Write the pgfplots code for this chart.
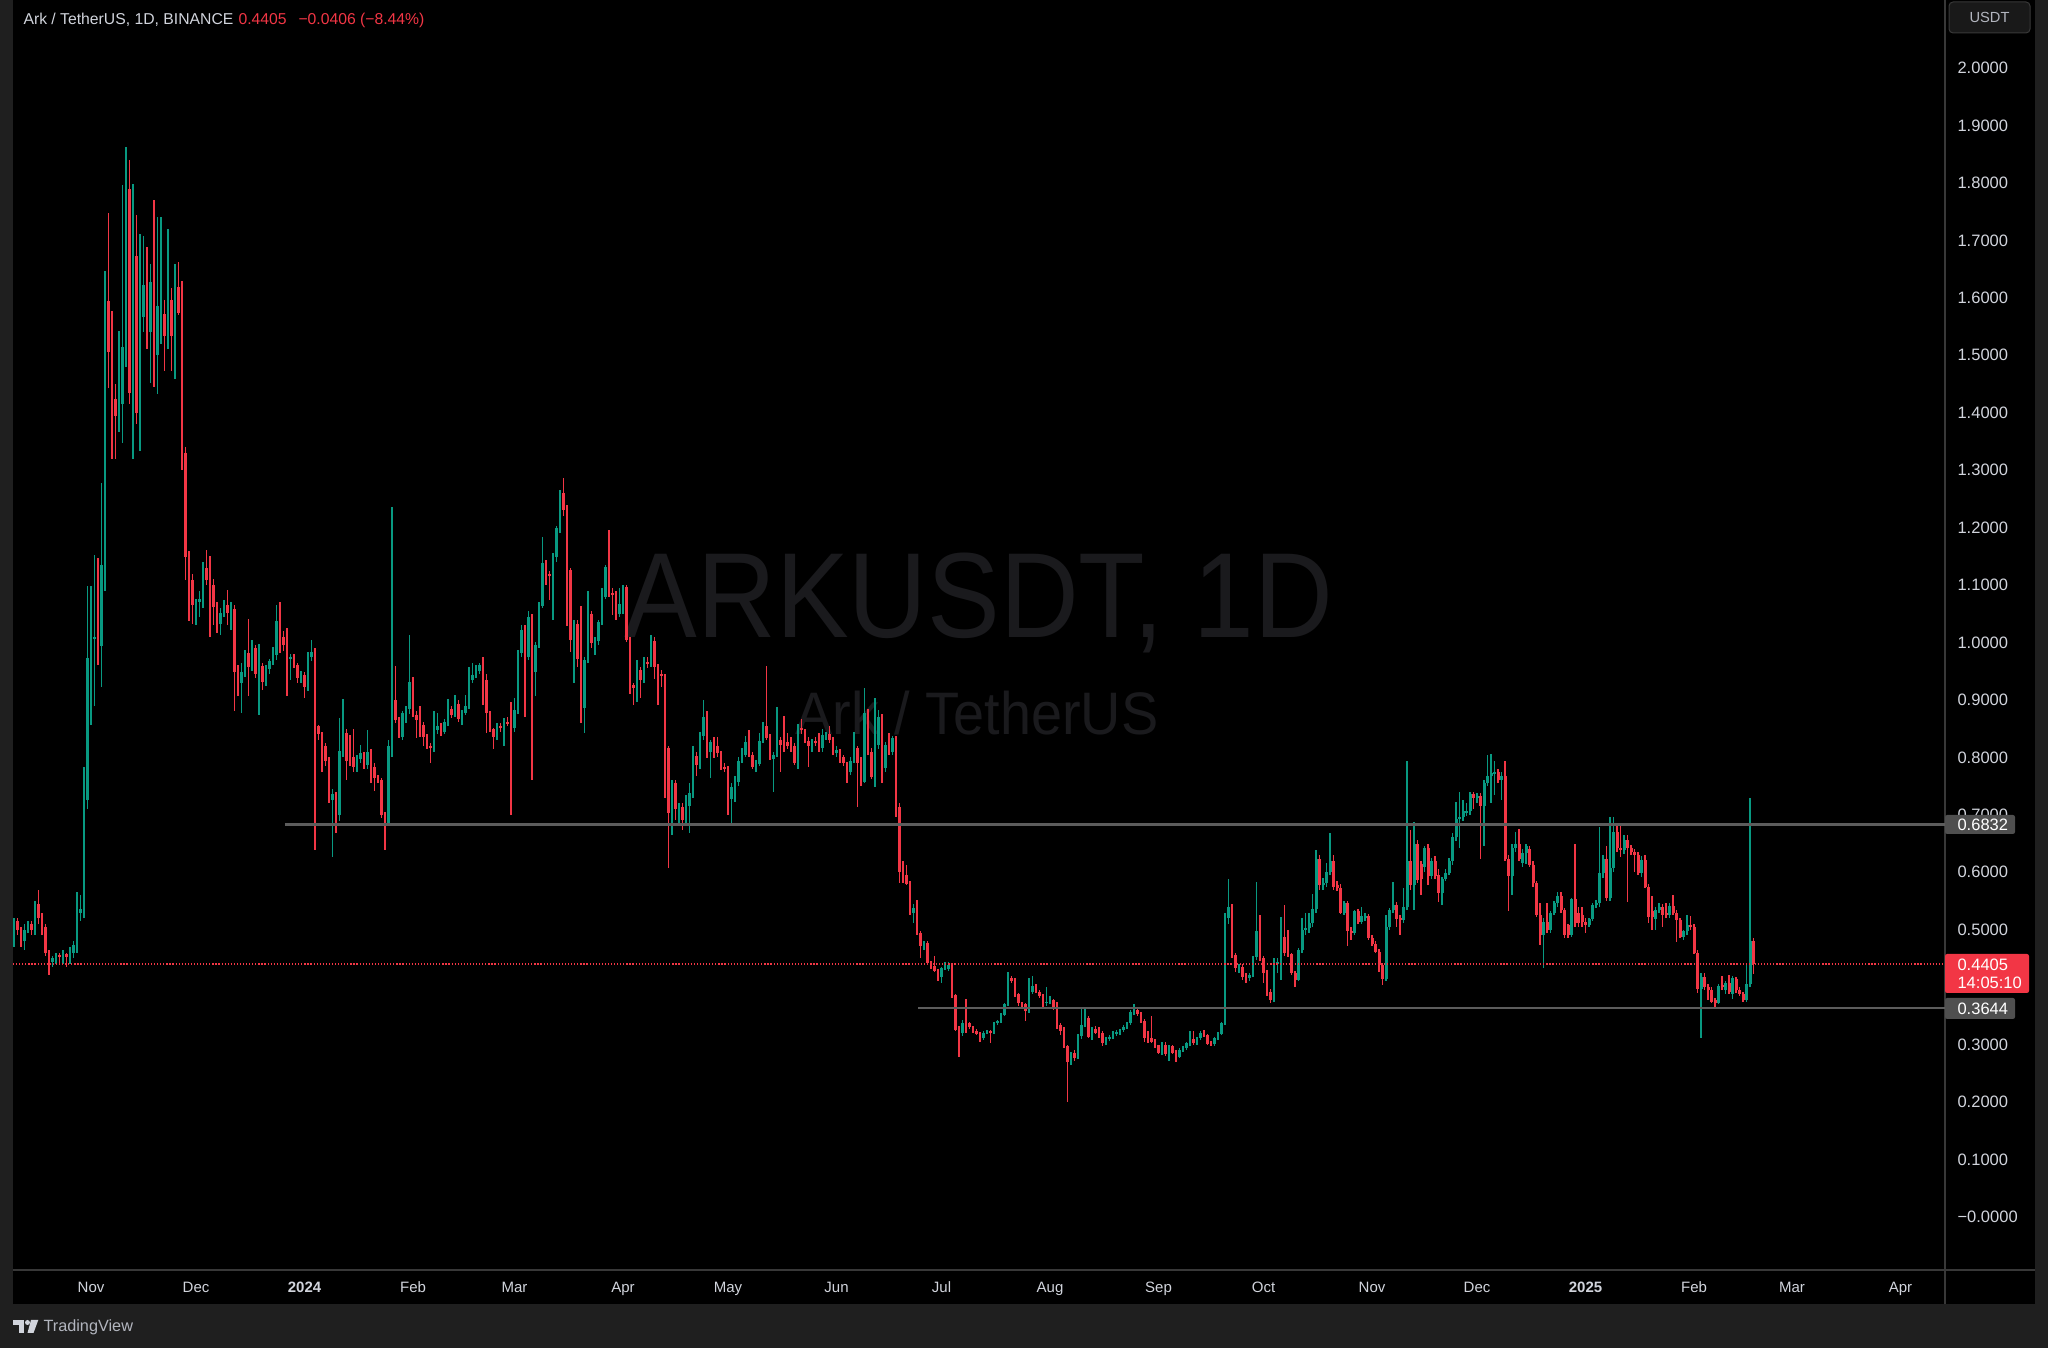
\documentclass[border=0pt]{standalone}
\usepackage{pgfplots}
\pgfplotsset{compat=1.18}
\usepackage{pgfplotstable}
\usepackage{fontspec}
\setmainfont{Liberation Sans}

\definecolor{tvgreen}{HTML}{089981}
\definecolor{tvred}{HTML}{F23645}
\definecolor{tvtext}{HTML}{D1D4DC}
\definecolor{tvgray}{HTML}{B2B5BE}
\definecolor{framebg}{HTML}{1F1F1F}
\definecolor{sepline}{HTML}{383838}
\definecolor{wm}{HTML}{1A1A1D}
\definecolor{level}{HTML}{5C5C5C}
\definecolor{levelbox}{HTML}{4F4F4F}

% daily candles, d = days since 1 Nov 2023
\pgfplotstableread{
d o h l c
-22 0.490 0.520 0.470 0.515
-21 0.515 0.520 0.490 0.500
-20 0.500 0.505 0.470 0.480
-19 0.480 0.510 0.465 0.500
-18 0.500 0.515 0.495 0.510
-17 0.510 0.515 0.490 0.500
-16 0.500 0.550 0.490 0.545
-15 0.545 0.570 0.510 0.520
-14 0.520 0.530 0.490 0.505
-13 0.505 0.510 0.455 0.460
-12 0.460 0.465 0.421 0.443
-11 0.443 0.455 0.435 0.450
-10 0.450 0.460 0.440 0.456
-9 0.456 0.460 0.440 0.452
-8 0.452 0.465 0.440 0.458
-7 0.458 0.460 0.435 0.453
-6 0.453 0.470 0.440 0.460
-5 0.460 0.480 0.450 0.473
-4 0.473 0.565 0.460 0.530
-3 0.530 0.560 0.515 0.536
-2 0.536 0.784 0.520 0.725
-1 0.725 1.098 0.710 0.973
0 0.973 1.098 0.856 1.006
1 1.006 1.152 0.889 1.009
2 1.009 1.147 0.961 0.994
3 0.994 1.278 0.923 1.135
4 1.135 1.647 1.090 1.594
5 1.594 1.747 1.443 1.505
6 1.505 1.577 1.319 1.424
7 1.424 1.450 1.320 1.395
8 1.395 1.543 1.367 1.415
9 1.415 1.797 1.348 1.515
10 1.515 1.862 1.480 1.789
11 1.789 1.840 1.415 1.434
12 1.434 1.798 1.319 1.672
13 1.672 1.744 1.381 1.400
14 1.400 1.711 1.333 1.567
15 1.567 1.708 1.540 1.623
16 1.623 1.689 1.510 1.541
17 1.541 1.658 1.451 1.627
18 1.627 1.770 1.445 1.500
19 1.500 1.741 1.432 1.585
20 1.540 1.741 1.520 1.572
21 1.572 1.596 1.472 1.534
22 1.534 1.720 1.510 1.596
23 1.596 1.617 1.472 1.534
24 1.534 1.658 1.458 1.618
25 1.618 1.663 1.570 1.574
26 1.574 1.630 1.300 1.330
27 1.330 1.340 1.109 1.149
28 1.149 1.160 1.037 1.109
29 1.109 1.120 1.033 1.066
30 1.066 1.075 1.030 1.070
31 1.070 1.090 1.045 1.075
32 1.075 1.140 1.060 1.130
33 1.130 1.161 1.100 1.109
34 1.109 1.150 1.010 1.100
35 1.100 1.110 1.030 1.061
36 1.061 1.070 1.016 1.032
37 1.032 1.060 1.013 1.052
38 1.052 1.074 1.045 1.069
39 1.066 1.091 1.030 1.051
40 1.045 1.071 1.022 1.059
41 1.059 1.065 0.880 0.949
42 0.949 0.961 0.906 0.930
43 0.930 0.964 0.878 0.948
44 0.948 0.987 0.940 0.984
45 0.982 1.041 0.906 0.957
46 0.957 1.004 0.950 0.990
47 0.990 0.995 0.938 0.946
48 0.946 0.997 0.874 0.959
49 0.959 0.964 0.917 0.932
50 0.932 0.960 0.925 0.953
51 0.953 0.972 0.945 0.968
52 0.968 0.993 0.960 0.978
53 0.978 1.065 0.970 1.038
54 1.038 1.071 0.981 0.996
55 1.010 1.020 0.985 0.996
56 1.000 1.025 0.906 0.972
57 0.972 0.980 0.935 0.975
58 0.975 0.980 0.955 0.961
59 0.961 0.965 0.929 0.938
60 0.938 0.950 0.930 0.941
61 0.943 0.948 0.903 0.923
62 0.923 0.984 0.915 0.974
63 0.974 1.004 0.968 0.984
64 0.984 0.990 0.639 0.854
65 0.854 0.857 0.830 0.841
66 0.841 0.845 0.774 0.820
67 0.820 0.825 0.785 0.793
68 0.793 0.800 0.720 0.725
69 0.725 0.745 0.626 0.736
70 0.736 0.740 0.668 0.700
71 0.700 0.868 0.690 0.811
72 0.811 0.901 0.800 0.843
73 0.843 0.850 0.761 0.794
74 0.807 0.839 0.785 0.794
75 0.800 0.849 0.775 0.783
76 0.783 0.805 0.775 0.798
77 0.798 0.822 0.790 0.807
78 0.804 0.810 0.780 0.787
79 0.787 0.848 0.780 0.810
80 0.810 0.815 0.755 0.783
81 0.783 0.790 0.741 0.765
82 0.765 0.770 0.755 0.761
83 0.761 0.765 0.695 0.700
84 0.700 0.705 0.638 0.685
85 0.685 0.830 0.680 0.819
86 0.819 1.236 0.800 0.900
87 0.900 0.959 0.860 0.865
88 0.865 0.870 0.833 0.836
89 0.836 0.880 0.830 0.877
90 0.877 0.890 0.860 0.885
91 0.885 1.013 0.875 0.932
92 0.932 0.940 0.870 0.874
93 0.874 0.880 0.833 0.865
94 0.865 0.889 0.836 0.857
95 0.857 0.862 0.819 0.836
96 0.836 0.840 0.814 0.820
97 0.820 0.825 0.791 0.817
98 0.817 0.880 0.810 0.848
99 0.848 0.878 0.840 0.854
100 0.854 0.860 0.838 0.845
101 0.845 0.866 0.840 0.861
102 0.861 0.901 0.855 0.884
103 0.884 0.890 0.868 0.874
104 0.874 0.909 0.870 0.893
105 0.893 0.900 0.862 0.866
106 0.866 0.882 0.857 0.878
107 0.878 0.909 0.874 0.890
108 0.890 0.958 0.885 0.935
109 0.935 0.964 0.930 0.944
110 0.944 0.960 0.938 0.951
111 0.951 0.965 0.945 0.961
112 0.961 0.974 0.891 0.935
113 0.935 0.945 0.842 0.877
114 0.877 0.880 0.845 0.849
115 0.849 0.852 0.814 0.835
116 0.835 0.860 0.830 0.854
117 0.854 0.860 0.845 0.851
118 0.851 0.868 0.820 0.862
119 0.862 0.870 0.855 0.859
120 0.859 0.897 0.700 0.852
121 0.852 0.903 0.845 0.882
122 0.882 0.987 0.875 0.982
123 0.982 1.030 0.975 1.022
124 1.022 1.030 0.870 0.975
125 0.975 1.054 0.970 1.045
126 1.045 1.050 0.761 0.949
127 0.949 1.000 0.907 0.996
128 0.996 1.070 0.990 1.064
129 1.064 1.184 1.060 1.139
130 1.139 1.144 1.100 1.119
131 1.119 1.125 1.074 1.116
132 1.116 1.155 1.040 1.148
133 1.148 1.202 1.140 1.199
134 1.199 1.266 1.190 1.260
135 1.260 1.286 1.220 1.231
136 1.231 1.240 1.028 1.126
137 1.126 1.130 0.984 1.004
138 1.004 1.040 0.929 1.033
139 1.033 1.040 0.958 0.971
140 0.971 1.063 0.860 0.886
141 0.886 0.975 0.842 0.970
142 0.970 1.089 0.965 1.050
143 1.050 1.055 0.990 0.999
144 0.999 1.010 0.978 1.002
145 1.002 1.040 0.995 1.035
146 1.035 1.094 1.030 1.080
147 1.080 1.135 1.075 1.131
148 1.131 1.196 1.080 1.086
149 1.086 1.095 1.048 1.083
150 1.083 1.090 1.039 1.067
151 1.050 1.094 1.045 1.067
152 1.060 1.100 1.050 1.097
153 1.097 1.100 1.000 1.004
154 1.004 1.010 0.911 0.926
155 0.926 0.930 0.891 0.920
156 0.920 0.970 0.897 0.952
157 0.952 0.958 0.903 0.935
158 0.935 0.975 0.930 0.964
159 0.966 0.975 0.955 0.963
160 0.963 1.013 0.958 1.003
161 1.003 1.010 0.936 0.958
162 0.958 0.963 0.891 0.943
163 0.945 0.952 0.923 0.941
164 0.941 0.945 0.729 0.816
165 0.816 0.820 0.607 0.704
166 0.704 0.760 0.665 0.755
167 0.755 0.760 0.691 0.711
168 0.710 0.720 0.681 0.713
169 0.713 0.720 0.674 0.691
170 0.691 0.735 0.682 0.714
171 0.716 0.755 0.668 0.738
172 0.738 0.820 0.730 0.803
173 0.803 0.810 0.767 0.787
174 0.787 0.845 0.780 0.837
175 0.837 0.900 0.830 0.871
176 0.871 0.880 0.799 0.825
177 0.810 0.830 0.764 0.826
178 0.826 0.836 0.799 0.819
179 0.819 0.836 0.800 0.808
180 0.808 0.812 0.778 0.781
181 0.783 0.790 0.775 0.780
182 0.780 0.785 0.700 0.727
183 0.727 0.755 0.684 0.749
184 0.749 0.768 0.723 0.758
185 0.758 0.801 0.750 0.794
186 0.794 0.816 0.790 0.804
187 0.804 0.837 0.800 0.827
188 0.827 0.848 0.800 0.804
189 0.804 0.810 0.780 0.784
190 0.784 0.795 0.775 0.788
191 0.788 0.843 0.785 0.829
192 0.829 0.862 0.825 0.855
193 0.855 0.959 0.830 0.833
194 0.833 0.840 0.795 0.797
195 0.797 0.810 0.740 0.804
196 0.804 0.888 0.800 0.830
197 0.830 0.835 0.775 0.822
198 0.826 0.872 0.810 0.819
199 0.826 0.842 0.815 0.820
200 0.829 0.835 0.810 0.819
201 0.819 0.825 0.787 0.790
202 0.790 0.858 0.779 0.851
203 0.851 0.866 0.840 0.847
204 0.847 0.850 0.825 0.828
205 0.828 0.835 0.784 0.819
206 0.819 0.832 0.810 0.828
207 0.829 0.835 0.820 0.825
208 0.827 0.842 0.810 0.816
209 0.816 0.849 0.810 0.839
210 0.837 0.845 0.830 0.840
211 0.840 0.854 0.825 0.830
212 0.830 0.835 0.804 0.807
213 0.807 0.820 0.800 0.813
214 0.813 0.815 0.790 0.798
215 0.801 0.805 0.785 0.790
216 0.790 0.792 0.755 0.774
217 0.774 0.800 0.770 0.794
218 0.794 0.845 0.790 0.816
219 0.816 0.820 0.713 0.790
220 0.790 0.800 0.750 0.758
221 0.758 0.920 0.755 0.877
222 0.877 0.885 0.805 0.810
223 0.810 0.816 0.762 0.766
224 0.769 0.903 0.749 0.822
225 0.822 0.882 0.815 0.870
226 0.870 0.875 0.755 0.781
227 0.781 0.827 0.775 0.822
228 0.822 0.842 0.805 0.810
229 0.810 0.837 0.805 0.833
230 0.833 0.838 0.697 0.714
231 0.714 0.720 0.581 0.601
232 0.603 0.619 0.581 0.592
233 0.595 0.613 0.578 0.580
234 0.580 0.585 0.525 0.530
235 0.530 0.545 0.511 0.538
236 0.538 0.552 0.490 0.494
237 0.494 0.497 0.450 0.471
238 0.471 0.480 0.465 0.477
239 0.477 0.480 0.440 0.442
240 0.442 0.445 0.432 0.435
241 0.437 0.455 0.426 0.429
242 0.429 0.432 0.410 0.418
243 0.418 0.435 0.407 0.433
244 0.433 0.443 0.430 0.436
245 0.431 0.443 0.428 0.438
246 0.436 0.440 0.382 0.385
247 0.386 0.388 0.323 0.326
248 0.329 0.332 0.278 0.320
249 0.320 0.343 0.315 0.337
250 0.340 0.379 0.321 0.337
251 0.337 0.340 0.327 0.330
252 0.330 0.333 0.320 0.323
253 0.324 0.327 0.316 0.319
254 0.320 0.322 0.305 0.311
255 0.311 0.324 0.308 0.321
256 0.321 0.326 0.318 0.323
257 0.323 0.326 0.302 0.320
258 0.321 0.340 0.318 0.338
259 0.338 0.343 0.335 0.342
260 0.341 0.355 0.338 0.352
261 0.352 0.373 0.350 0.371
262 0.371 0.427 0.368 0.414
263 0.416 0.420 0.408 0.410
264 0.413 0.416 0.383 0.387
265 0.388 0.390 0.368 0.373
266 0.373 0.375 0.366 0.369
267 0.371 0.373 0.342 0.358
268 0.358 0.416 0.355 0.391
269 0.391 0.419 0.388 0.402
270 0.401 0.405 0.390 0.392
271 0.392 0.395 0.381 0.384
272 0.385 0.388 0.366 0.372
273 0.372 0.401 0.368 0.375
274 0.375 0.385 0.370 0.378
275 0.378 0.380 0.360 0.363
276 0.365 0.375 0.328 0.331
277 0.334 0.338 0.317 0.323
278 0.326 0.330 0.295 0.297
279 0.298 0.300 0.201 0.270
280 0.270 0.288 0.265 0.285
281 0.285 0.290 0.272 0.276
282 0.279 0.318 0.275 0.315
283 0.315 0.362 0.310 0.334
284 0.334 0.362 0.330 0.346
285 0.346 0.350 0.311 0.314
286 0.314 0.330 0.308 0.326
287 0.328 0.332 0.318 0.321
288 0.321 0.331 0.312 0.317
289 0.321 0.323 0.297 0.302
290 0.303 0.314 0.300 0.311
291 0.311 0.316 0.307 0.313
292 0.313 0.324 0.310 0.321
293 0.318 0.325 0.315 0.322
294 0.319 0.328 0.316 0.326
295 0.326 0.334 0.322 0.331
296 0.331 0.340 0.328 0.338
297 0.338 0.360 0.335 0.357
298 0.357 0.371 0.352 0.360
299 0.360 0.365 0.350 0.353
300 0.353 0.356 0.337 0.340
301 0.342 0.345 0.305 0.311
302 0.311 0.323 0.303 0.308
303 0.311 0.350 0.303 0.305
304 0.307 0.310 0.295 0.297
305 0.299 0.300 0.283 0.285
306 0.285 0.304 0.282 0.299
307 0.299 0.304 0.281 0.284
308 0.284 0.300 0.272 0.297
309 0.297 0.300 0.283 0.285
310 0.288 0.290 0.269 0.279
311 0.279 0.294 0.276 0.291
312 0.291 0.297 0.287 0.294
313 0.294 0.305 0.290 0.302
314 0.301 0.323 0.298 0.309
315 0.309 0.323 0.300 0.302
316 0.303 0.313 0.300 0.311
317 0.311 0.324 0.308 0.321
318 0.321 0.325 0.314 0.316
319 0.316 0.318 0.299 0.301
320 0.303 0.306 0.297 0.301
321 0.301 0.314 0.297 0.311
322 0.311 0.322 0.308 0.319
323 0.319 0.340 0.316 0.337
324 0.337 0.529 0.335 0.520
325 0.520 0.588 0.510 0.540
326 0.540 0.545 0.450 0.456
327 0.456 0.460 0.427 0.433
328 0.431 0.440 0.424 0.436
329 0.436 0.440 0.413 0.418
330 0.420 0.425 0.407 0.416
331 0.416 0.425 0.410 0.421
332 0.421 0.455 0.418 0.452
333 0.452 0.583 0.448 0.497
334 0.497 0.526 0.445 0.450
335 0.450 0.455 0.407 0.424
336 0.424 0.430 0.384 0.392
337 0.392 0.396 0.372 0.378
338 0.378 0.450 0.375 0.447
339 0.440 0.450 0.425 0.444
340 0.444 0.523 0.413 0.488
341 0.488 0.543 0.455 0.460
342 0.460 0.500 0.452 0.457
343 0.457 0.460 0.421 0.424
344 0.424 0.428 0.401 0.413
345 0.413 0.468 0.410 0.464
346 0.464 0.520 0.460 0.500
347 0.500 0.529 0.490 0.503
348 0.503 0.530 0.495 0.511
349 0.511 0.563 0.505 0.536
350 0.536 0.638 0.530 0.624
351 0.624 0.630 0.570 0.578
352 0.578 0.590 0.570 0.581
353 0.581 0.616 0.575 0.601
354 0.601 0.669 0.595 0.619
355 0.619 0.630 0.570 0.575
356 0.578 0.585 0.568 0.573
357 0.573 0.580 0.528 0.530
358 0.530 0.550 0.525 0.546
359 0.546 0.550 0.471 0.497
360 0.497 0.505 0.482 0.495
361 0.495 0.535 0.490 0.532
362 0.532 0.536 0.510 0.514
363 0.514 0.539 0.510 0.524
364 0.520 0.530 0.515 0.524
365 0.524 0.528 0.483 0.485
366 0.485 0.490 0.472 0.476
367 0.476 0.480 0.459 0.462
368 0.462 0.466 0.427 0.439
369 0.439 0.442 0.404 0.414
370 0.414 0.526 0.410 0.505
371 0.505 0.538 0.500 0.534
372 0.534 0.583 0.530 0.543
373 0.543 0.548 0.505 0.518
374 0.520 0.525 0.491 0.517
375 0.517 0.572 0.512 0.540
376 0.540 0.793 0.535 0.620
377 0.620 0.674 0.570 0.578
378 0.578 0.688 0.534 0.650
379 0.650 0.656 0.581 0.587
380 0.614 0.620 0.561 0.588
381 0.610 0.646 0.600 0.642
382 0.642 0.650 0.578 0.593
383 0.593 0.625 0.588 0.619
384 0.619 0.628 0.588 0.593
385 0.596 0.605 0.549 0.564
386 0.564 0.592 0.543 0.588
387 0.588 0.605 0.585 0.599
388 0.599 0.625 0.595 0.619
389 0.619 0.668 0.612 0.661
390 0.661 0.723 0.655 0.692
391 0.692 0.740 0.642 0.696
392 0.696 0.725 0.690 0.706
393 0.704 0.720 0.698 0.707
394 0.707 0.740 0.700 0.736
395 0.736 0.740 0.711 0.729
396 0.729 0.738 0.720 0.732
397 0.732 0.738 0.624 0.715
398 0.715 0.760 0.645 0.755
399 0.755 0.804 0.750 0.768
400 0.768 0.806 0.720 0.773
401 0.772 0.793 0.735 0.775
402 0.775 0.780 0.755 0.761
403 0.761 0.775 0.726 0.768
404 0.768 0.793 0.620 0.623
405 0.623 0.630 0.532 0.593
406 0.593 0.650 0.561 0.642
407 0.642 0.671 0.635 0.649
408 0.649 0.675 0.620 0.624
409 0.616 0.640 0.610 0.633
410 0.633 0.650 0.615 0.646
411 0.640 0.645 0.610 0.613
412 0.613 0.620 0.575 0.581
413 0.581 0.585 0.522 0.526
414 0.526 0.546 0.474 0.491
415 0.491 0.520 0.433 0.514
416 0.514 0.547 0.495 0.500
417 0.500 0.533 0.495 0.529
418 0.529 0.550 0.525 0.546
419 0.546 0.565 0.540 0.559
420 0.559 0.565 0.530 0.534
421 0.534 0.538 0.485 0.491
422 0.508 0.510 0.485 0.491
423 0.491 0.556 0.488 0.553
424 0.553 0.650 0.505 0.511
425 0.530 0.540 0.505 0.511
426 0.525 0.540 0.505 0.514
427 0.514 0.520 0.495 0.509
428 0.509 0.520 0.505 0.518
429 0.518 0.546 0.515 0.543
430 0.543 0.552 0.538 0.547
431 0.547 0.678 0.540 0.598
432 0.598 0.630 0.590 0.624
433 0.624 0.645 0.550 0.555
434 0.555 0.697 0.550 0.607
435 0.607 0.697 0.600 0.671
436 0.671 0.680 0.635 0.642
437 0.642 0.682 0.627 0.639
438 0.639 0.665 0.632 0.657
439 0.657 0.665 0.549 0.642
440 0.642 0.648 0.630 0.636
441 0.636 0.640 0.601 0.630
442 0.630 0.635 0.595 0.598
443 0.598 0.628 0.592 0.622
444 0.622 0.630 0.572 0.575
445 0.575 0.580 0.511 0.522
446 0.532 0.559 0.500 0.523
447 0.518 0.540 0.500 0.534
448 0.534 0.546 0.530 0.540
449 0.540 0.545 0.505 0.526
450 0.529 0.546 0.520 0.526
451 0.526 0.546 0.520 0.541
452 0.542 0.561 0.525 0.530
453 0.530 0.535 0.479 0.517
454 0.517 0.520 0.485 0.488
455 0.488 0.500 0.483 0.497
456 0.497 0.526 0.490 0.508
457 0.508 0.524 0.500 0.505
458 0.505 0.510 0.458 0.460
459 0.460 0.465 0.390 0.396
460 0.396 0.425 0.311 0.418
461 0.418 0.424 0.395 0.401
462 0.401 0.405 0.378 0.395
463 0.395 0.400 0.372 0.375
464 0.378 0.382 0.363 0.373
465 0.373 0.405 0.370 0.402
466 0.404 0.419 0.395 0.401
467 0.395 0.410 0.388 0.407
468 0.407 0.421 0.388 0.392
469 0.388 0.419 0.380 0.416
470 0.414 0.418 0.390 0.395
471 0.395 0.400 0.385 0.389
472 0.389 0.392 0.375 0.378
473 0.378 0.439 0.374 0.406
474 0.406 0.729 0.400 0.4811
475 0.4811 0.485 0.423 0.4405
}\ark

\pgfplotsset{
  wick/.style={draw=none, mark=none, forget plot,
    error bars/.cd, y dir=both, y explicit, error mark=none,
    error bar style={draw=#1, solid, line width=0.42pt}},
  body/.style={draw=none, mark=none, forget plot,
    error bars/.cd, y dir=both, y explicit, error mark=none,
    error bar style={draw=#1, solid, line width=1.1pt}},
}

\begin{document}
\begin{tikzpicture}[x=0.375pt,y=0.375pt]
\useasboundingbox (0,0) rectangle (2048,1348);
% frame and panes
\fill[framebg] (0,0) rectangle (2048,1348);
\fill[black] (13,44) rectangle (2035,1348);
\draw[sepline, line width=0.75pt] (1945,44) -- (1945,1348);
\draw[sepline, line width=0.75pt] (13,78) -- (2035,78);

% watermark
\node[anchor=base, inner sep=0pt, text=wm, xscale=0.9,
  font=\fontsize{45.4pt}{50pt}\selectfont] at (979,710) {ARKUSDT, 1D};
\node[anchor=base, inner sep=0pt, text=wm, xscale=0.93,
  font=\fontsize{22.5pt}{26pt}\selectfont] at (977,613) {Ark / TetherUS};

\begin{axis}[
  at={(4.875pt,29.25pt)}, anchor=south west,
  scale only axis, width=724.5pt, height=476.25pt,
  xmin=-22.29, xmax=529.71, ymin=-0.09225, ymax=2.11836,
  restrict y to domain=-1:3,
  axis line style={draw=none},
  major tick length=0pt, tick style={draw=none},
  ytick pos=right, yticklabel pos=right,
  xtick pos=bottom, xticklabel pos=bottom,
  ytick={0,0.1,0.2,0.3,0.5,0.6,0.7,0.8,0.9,1.0,1.1,1.2,1.3,1.4,1.5,1.6,1.7,1.8,1.9,2.0},
  yticklabels={−0.0000,0.1000,0.2000,0.3000,0.5000,0.6000,0.7000,0.8000,0.9000,1.0000,1.1000,1.2000,1.3000,1.4000,1.5000,1.6000,1.7000,1.8000,1.9000,2.0000},
  yticklabel style={anchor=west, inner sep=0pt, xshift=4.5pt, text=tvtext,
    font=\fontsize{6.19pt}{7pt}\selectfont},
  xtick={0,30,61,92,121,152,182,213,243,274,305,335,366,396,427,458,486,517},
  xticklabels={Nov,Dec,\textbf{2024},Feb,Mar,Apr,May,Jun,Jul,Aug,Sep,Oct,Nov,Dec,\textbf{2025},Feb,Mar,Apr},
  xticklabel style={anchor=base, inner sep=0pt, yshift=-8.625pt, text=tvtext,
    font=\fontsize{5.63pt}{7pt}\selectfont},
]
% wicks
\addplot[wick=tvgreen] table[x=d,
  y expr={\thisrow{c}>\thisrow{o} ? 0.5*(\thisrow{h}+\thisrow{l}) : -5},
  y error expr={0.5*(\thisrow{h}-\thisrow{l})}] {\ark};
\addplot[wick=tvred] table[x=d,
  y expr={\thisrow{c}>\thisrow{o} ? -5 : 0.5*(\thisrow{h}+\thisrow{l})},
  y error expr={0.5*(\thisrow{h}-\thisrow{l})}] {\ark};
% bodies
\addplot[body=tvgreen] table[x=d,
  y expr={\thisrow{c}>\thisrow{o} ? 0.5*(\thisrow{o}+\thisrow{c}) : -5},
  y error expr={max(0.5*abs(\thisrow{c}-\thisrow{o}),0.0009)}] {\ark};
\addplot[body=tvred] table[x=d,
  y expr={\thisrow{c}>\thisrow{o} ? -5 : 0.5*(\thisrow{o}+\thisrow{c})},
  y error expr={max(0.5*abs(\thisrow{c}-\thisrow{o}),0.0009)}] {\ark};
% levels and last price
\addplot[level, line width=0.85pt, forget plot] coordinates {(55.4,0.6832) (529.71,0.6832)};
\addplot[level, line width=0.85pt, forget plot] coordinates {(236.3,0.3644) (529.71,0.3644)};
\addplot[tvred, line width=0.45pt, dash pattern=on 0.45pt off 0.7pt, forget plot]
  coordinates {(-22.29,0.4405) (529.71,0.4405)};
\end{axis}

% header
\node[anchor=base west, inner sep=0pt, text=tvtext, font=\fontsize{5.9pt}{7pt}\selectfont]
  at (23,1323) {Ark / TetherUS, 1D, BINANCE};
\node[anchor=base west, inner sep=0pt, text=tvred, font=\fontsize{5.9pt}{7pt}\selectfont]
  at (238,1323) {0.4405};
\node[anchor=base west, inner sep=0pt, text=tvred, font=\fontsize{5.9pt}{7pt}\selectfont]
  at (298,1323) {−0.0406 (−8.44\%)};

% price labels on the scale
\fill[levelbox, rounded corners=0.8pt] (1945,514) rectangle (2015,533);
\node[anchor=west, inner sep=0pt, text=white, font=\fontsize{6.19pt}{7pt}\selectfont]
  at (1957,523.5) {0.6832};
\fill[tvred, rounded corners=0.8pt] (1945,355) rectangle (2029,394);
\node[anchor=west, inner sep=0pt, text=white, font=\fontsize{6.19pt}{7pt}\selectfont]
  at (1957,383) {0.4405};
\node[anchor=west, inner sep=0pt, text=white, font=\fontsize{6.19pt}{7pt}\selectfont]
  at (1957,365) {14:05:10};
\fill[levelbox, rounded corners=0.8pt] (1945,329) rectangle (2015,350);
\node[anchor=west, inner sep=0pt, text=white, font=\fontsize{6.19pt}{7pt}\selectfont]
  at (1957,339.5) {0.3644};

% currency button
\filldraw[fill=black!90!white, draw=sepline, line width=0.375pt, rounded corners=1.5pt]
  (1949,1315) rectangle (2030,1346);
\node[inner sep=0pt, text=tvgray, font=\fontsize{5.5pt}{7pt}\selectfont] at (1989.5,1330.5) {USDT};

% logo
\fill[tvtext] (13,28) rectangle (24,23);
\fill[tvtext] (18.5,28) rectangle (24,15);
\fill[tvtext] (27.5,25.5) circle (2.5);
\fill[tvtext] (31,28) -- (38.3,28) -- (33.5,15) -- (27.5,15) -- cycle;
\node[anchor=base west, inner sep=0pt, text=tvgray, font=\fontsize{6.1pt}{7pt}\selectfont]
  at (43,16) {TradingView};
\end{tikzpicture}
\end{document}
